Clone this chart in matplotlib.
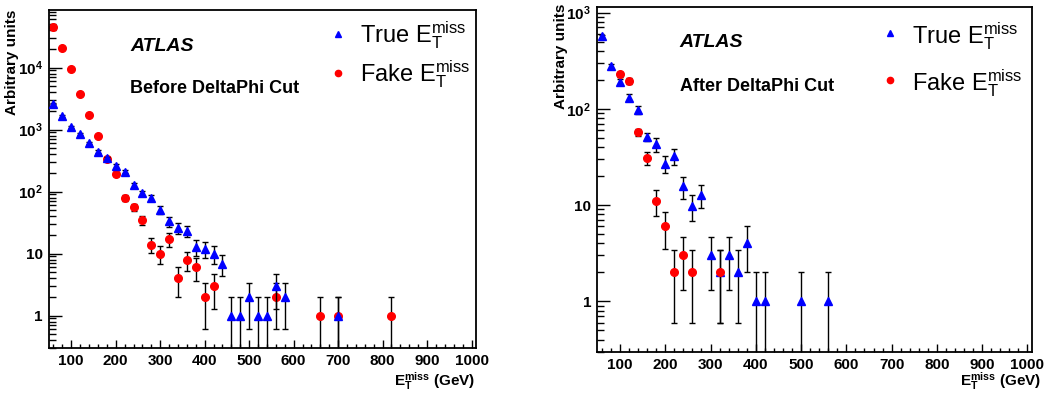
import math
import matplotlib
matplotlib.use("Agg")
import matplotlib.pyplot as plt
from matplotlib.ticker import MultipleLocator, LogLocator, NullFormatter, FuncFormatter

plt.rcParams['font.family'] = 'Liberation Sans'
plt.rcParams['mathtext.fontset'] = 'custom'
plt.rcParams['mathtext.rm'] = 'Liberation Sans'
plt.rcParams['mathtext.bf'] = 'Liberation Sans:bold'
plt.rcParams['mathtext.it'] = 'Liberation Sans:italic'

# Before DeltaPhi cut
true_before_x = [60, 80, 100, 120, 140, 160, 180, 200, 220, 240, 260, 280, 300, 320,
                 340, 360, 380, 400, 420, 440, 460, 480, 500, 520, 540, 560, 580, 700]
true_before_y = [2600, 1650, 1100, 840, 600, 440, 345, 260, 210, 127, 94, 80, 51, 33,
                 26, 23.5, 12.7, 11.9, 10, 6.9, 1, 1, 2, 1, 1, 3, 2, 1]
true_before_err = [51, 41, 33, 29, 24, 21, 19, 16, 14, 11, 9.7, 8.9, 7.1, 5.7,
                   5.1, 4.8, 3.6, 3.4, 3.2, 2.6, 1, 1, 1.4, 1, 1, 1.7, 1.4, 1]

fake_before_x = [60, 80, 100, 120, 140, 160, 180, 200, 220, 240, 260, 280, 300, 320,
                 340, 360, 380, 400, 420, 560, 660, 700, 820]
fake_before_y = [45000, 21000, 9400, 3800, 1700, 780, 340, 195, 79, 56, 35, 14, 10, 17,
                 4, 8, 6, 2, 3, 2, 1, 1, 1]
fake_before_err = [212, 145, 97, 62, 41, 28, 18, 14, 8.9, 7.5, 5.9, 3.7, 3.2, 4.1,
                   2, 2.8, 2.4, 1.4, 1.7, 1.4, 1, 1, 1]

# After DeltaPhi cut
true_after_x = [60, 80, 100, 120, 140, 160, 180, 200, 220, 240, 260, 280, 300, 320,
                340, 360, 380, 400, 420, 500, 560]
true_after_y = [565, 277, 192, 131, 98, 51.5, 42.6, 26.8, 32, 15.7, 9.8, 12.8, 3, 2,
                3, 2, 4, 1, 1, 1, 1]
true_after_err = [24, 17, 14, 11, 10, 5, 7, 5.3, 6, 4, 3, 3.5, 1.7, 1.4,
                  1.7, 1.4, 2, 1, 1, 1, 1]

fake_after_x = [100, 120, 140, 160, 180, 200, 220, 240, 260, 320]
fake_after_y = [228, 194, 57, 31, 11, 6, 2, 3, 2, 2]
fake_after_err = [15, 14, 5, 5, 3.3, 2.5, 1.4, 1.7, 1.4, 1.4]

W, H = 1051, 394


def log_label(v, pos):
    if abs(v - 1) < 1e-6:
        return '1'
    if abs(v - 10) < 1e-6:
        return '10'
    return r'$\mathbf{10^{%d}}$' % round(math.log10(v))


def style_axes(ax, ymax):
    ax.set_yscale('log')
    ax.set_xlim(50, 1010)
    ax.set_ylim(0.3, ymax)
    ax.xaxis.set_major_locator(MultipleLocator(100))
    ax.xaxis.set_minor_locator(MultipleLocator(20))
    ax.yaxis.set_major_locator(LogLocator(base=10))
    ax.yaxis.set_minor_locator(LogLocator(base=10, subs=range(2, 10)))
    ax.yaxis.set_major_formatter(FuncFormatter(log_label))
    ax.yaxis.set_minor_formatter(NullFormatter())
    ax.tick_params(which='both', direction='in', top=False, right=False,
                   labelsize=11, pad=4.5, width=1)
    ax.tick_params(axis='x', which='major', length=5.8)
    ax.tick_params(axis='x', which='minor', length=2.9)
    ax.tick_params(axis='y', which='major', length=9.4)
    ax.tick_params(axis='y', which='minor', length=4.7)
    for lab in ax.get_xticklabels() + ax.get_yticklabels():
        lab.set_fontweight('bold')
    for sp in ax.spines.values():
        sp.set_linewidth(1.3)


def draw_legend(ax, mx, tx, ys_marker, ys_text):
    # ROOT-style legend: small marker followed by the label
    ax.plot([mx], [ys_marker[0]], marker='^', color='blue', ms=4.5, ls='none',
            transform=ax.transAxes, clip_on=False)
    ax.plot([mx], [ys_marker[1]], marker='o', color='red', ms=4.5, ls='none',
            transform=ax.transAxes, clip_on=False)
    ax.text(tx, ys_text[0], r'True E$_{\mathrm{T}}^{\mathrm{miss}}$', fontsize=17,
            transform=ax.transAxes, ha='left', va='center')
    ax.text(tx, ys_text[1], r'Fake E$_{\mathrm{T}}^{\mathrm{miss}}$', fontsize=17,
            transform=ax.transAxes, ha='left', va='center')


fig = plt.figure(figsize=(W / 100, H / 100), dpi=100)

# left panel
ax1 = fig.add_axes([49 / W, 1 - 348 / H, 427 / W, 338 / H])
ax1.errorbar(fake_before_x, fake_before_y, yerr=fake_before_err, fmt='o', color='red',
             ms=5.5, ecolor='black', elinewidth=1, capsize=2, capthick=1, zorder=2)
ax1.errorbar(true_before_x, true_before_y, yerr=true_before_err, fmt='^', color='blue',
             ms=5.8, ecolor='black', elinewidth=1, capsize=2, capthick=1, zorder=3)
style_axes(ax1, 8.5e4)
ax1.text(0.19, 0.893, 'ATLAS', fontsize=14, fontweight='bold', fontstyle='italic',
         transform=ax1.transAxes, va='center')
ax1.text(0.19, 0.769, 'Before DeltaPhi Cut', fontsize=13, fontweight='bold',
         transform=ax1.transAxes, va='center')
draw_legend(ax1, 0.677, 0.728, (0.929, 0.814), (0.925, 0.811))

# right panel
ax2 = fig.add_axes([597.3 / W, 1 - 351.7 / H, 434.7 / W, 345 / H])
ax2.errorbar(true_after_x, true_after_y, yerr=true_after_err, fmt='^', color='blue',
             ms=5.8, ecolor='black', elinewidth=1, capsize=2, capthick=1, zorder=2)
ax2.errorbar(fake_after_x, fake_after_y, yerr=fake_after_err, fmt='o', color='red',
             ms=5.5, ecolor='black', elinewidth=1, capsize=2, capthick=1, zorder=3)
style_axes(ax2, 1150)
ax2.text(0.19, 0.895, 'ATLAS', fontsize=14, fontweight='bold', fontstyle='italic',
         transform=ax2.transAxes, va='center')
ax2.text(0.19, 0.770, 'After DeltaPhi Cut', fontsize=13, fontweight='bold',
         transform=ax2.transAxes, va='center')
draw_legend(ax2, 0.673, 0.724, (0.924, 0.788), (0.916, 0.779))

# axis titles
for xpos, top in [(12, 10), (561, 4)]:
    fig.text(xpos / W, 1 - top / H, 'Arbitrary units', rotation=90, ha='center',
             va='top', fontsize=11, fontweight='bold')
for xr in [475, 1041]:
    fig.text(xr / W, 1 - 381 / H, r'$\mathbf{E_{T}^{miss}}$ (GeV)', ha='right',
             va='center', fontsize=11, fontweight='bold')

fig.savefig('out.png', dpi=100)
